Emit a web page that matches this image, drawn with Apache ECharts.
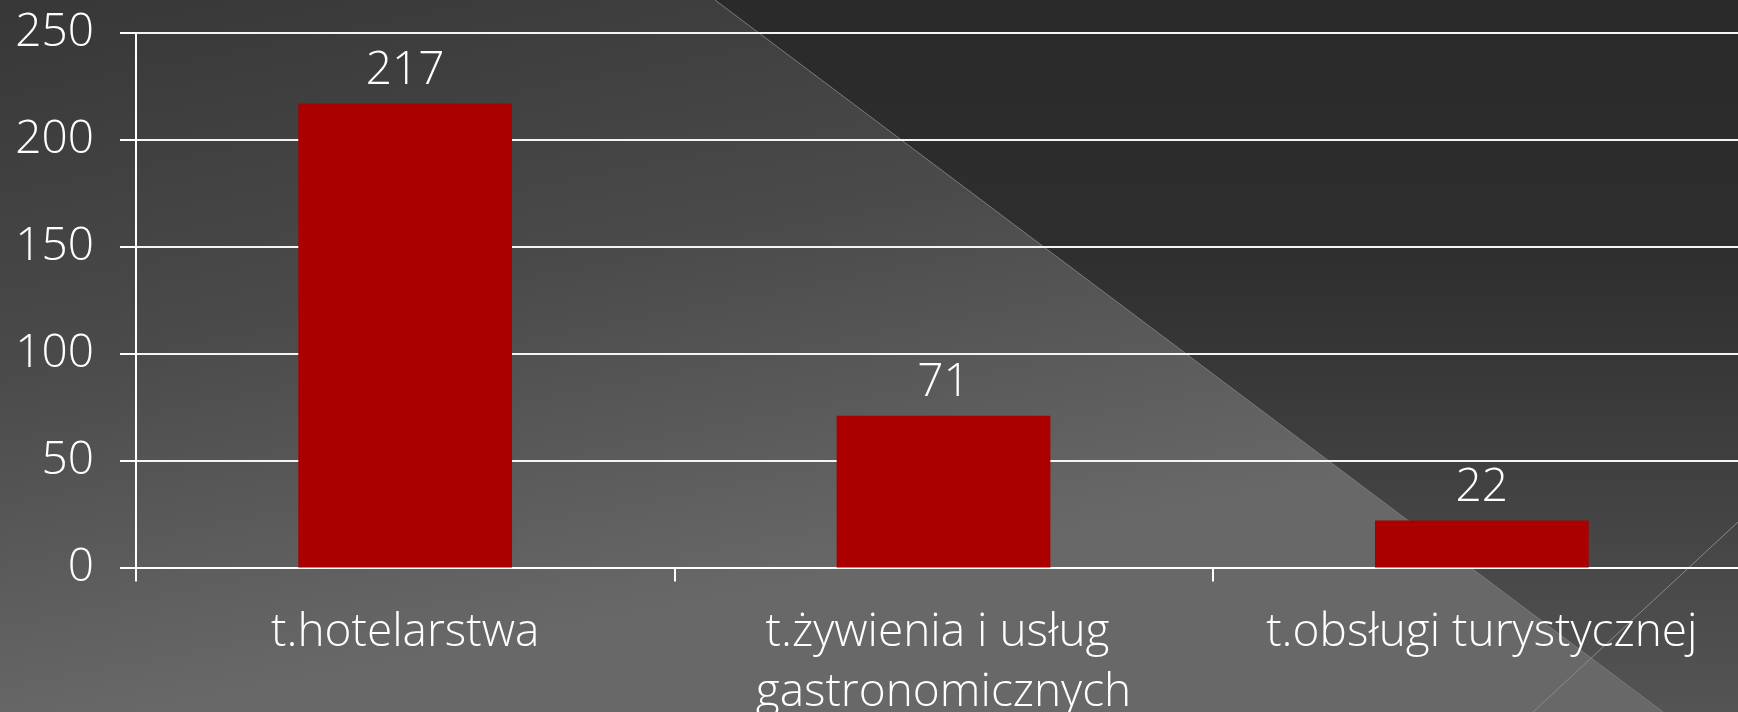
<!DOCTYPE html>
<html>
<head>
<meta charset="utf-8">
<script src="https://cdn.jsdelivr.net/npm/echarts@6/dist/echarts.min.js"></script>
<style>
html,body{margin:0;padding:0;background:#3a3a3a;}
#chart{width:1738px;height:712px;}
</style>
</head>
<body>
<div id="chart"></div>
<script>
const categories = ['t.hotelarstwa', 't.żywienia i usług gastronomicznych', 't.obsługi turystycznej'];
const values = [217, 71, 22];
const yTicks = { min: 0, max: 250, interval: 50 };

const FONT = '"Open Sans", "Noto Sans", sans-serif';
const chart = echarts.init(document.getElementById('chart'), null, { renderer: 'canvas' });

chart.setOption({
  animation: false,
  backgroundColor: {
    type: 'linear', x: 0, y: 0, x2: 0.08, y2: 1,
    colorStops: [{ offset: 0, color: '#373737' }, { offset: 0.5, color: '#4a4a4a' }, { offset: 1, color: '#686868' }]
  },
  graphic: [
    {
      type: 'polygon', z: -10, silent: true,
      shape: { points: [[715, 0], [1738, 0], [1738, 712], [1663, 712]] },
      style: {
        fill: {
          type: 'linear', x: 0, y: 0, x2: 0, y2: 1,
          colorStops: [{ offset: 0, color: '#2a2a2a' }, { offset: 0.35, color: '#2e2e2e' }, { offset: 1, color: '#545454' }]
        }
      }
    },
    {
      type: 'line', z: -9, silent: true,
      shape: { x1: 715, y1: 0, x2: 1663, y2: 712 },
      style: { stroke: '#7a7a7a', lineWidth: 1 }
    },
    {
      type: 'line', z: -9, silent: true,
      shape: { x1: 1533, y1: 712, x2: 1738, y2: 522 },
      style: { stroke: '#8a8a8a', lineWidth: 1 }
    }
  ],
  grid: { left: 136, width: 1615, top: 33, bottom: 144.5, containLabel: false, outerBoundsMode: 'none' },
  xAxis: {
    type: 'category',
    data: categories,
    boundaryGap: true,
    axisLine: { show: true, lineStyle: { color: '#ffffff', width: 2 } },
    axisTick: { show: true, alignWithLabel: false, length: 14, lineStyle: { color: '#ffffff', width: 2 } },
    axisLabel: {
      color: '#ffffff', fontFamily: FONT, fontSize: 46, fontWeight: 300,
      margin: 35, lineHeight: 60, width: 500, overflow: 'break', interval: 0
    },
    splitLine: { show: false }
  },
  yAxis: {
    type: 'value',
    min: yTicks.min, max: yTicks.max, interval: yTicks.interval,
    axisLine: { show: true, lineStyle: { color: '#ffffff', width: 2 } },
    axisTick: { show: true, length: 16, lineStyle: { color: '#ffffff', width: 2 } },
    axisLabel: { color: '#ffffff', fontFamily: FONT, fontSize: 46, fontWeight: 300, margin: 42 },
    splitLine: { show: true, lineStyle: { color: '#f4f4f4', width: 2 } }
  },
  series: [{
    type: 'bar',
    data: values,
    barWidth: '39.7%',
    itemStyle: { color: '#aa0000' },
    label: {
      show: true, position: 'top', distance: 10,
      color: '#ffffff', fontFamily: FONT, fontSize: 46, fontWeight: 300
    }
  }]
});
</script>
</body>
</html>
